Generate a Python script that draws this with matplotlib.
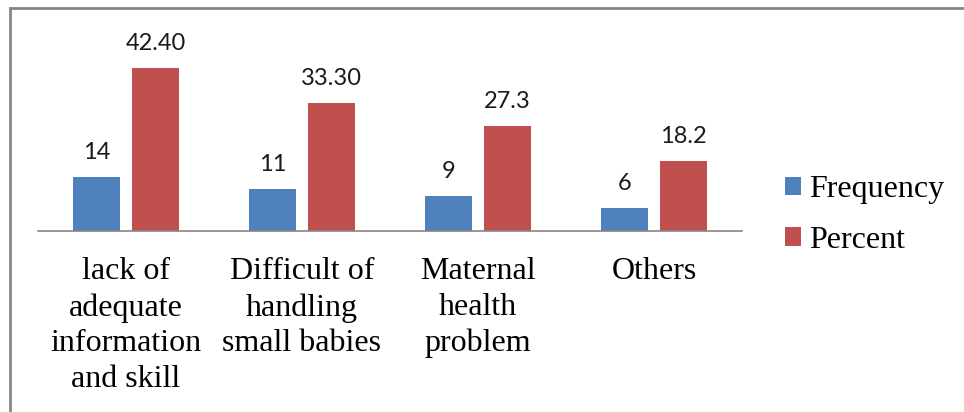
import matplotlib
matplotlib.use("Agg")
import matplotlib.pyplot as plt
from matplotlib.patches import Rectangle, Patch
import numpy as np

categories = ["lack of\nadequate\ninformation\nand skill",
              "Difficult of\nhandling\nsmall babies",
              "Maternal\nhealth\nproblem",
              "Others"]
frequency = [14, 11, 9, 6]
percent = [42.40, 33.30, 27.3, 18.2]
frequency_labels = ["14", "11", "9", "6"]
percent_labels = ["42.40", "33.30", "27.3", "18.2"]
series_names = ["Frequency", "Percent"]

BLUE = "#4F81BD"
RED = "#C0504D"
GRAY = "#868686"

W, H, DPI = 964, 412, 100
fig = plt.figure(figsize=(W / DPI, H / DPI), dpi=DPI)

# outer border (partially cropped at right/bottom)
fig.patches.append(Rectangle((10 / W, -0.1), 1.2, 1 - 8 / H + 0.1,
                             transform=fig.transFigure, fill=False,
                             edgecolor=GRAY, linewidth=2))

ax_left, ax_right = 38, 742
ax_base, ax_top = 231, 58
ax = fig.add_axes([ax_left / W, (H - ax_base) / H,
                   (ax_right - ax_left) / W, (ax_base - ax_top) / H])

x = np.arange(len(categories))
off, bw = 0.168, 0.267
b1 = ax.bar(x - off, frequency, bw, color=BLUE, label=series_names[0])
b2 = ax.bar(x + off, percent, bw, color=RED, label=series_names[1])

ax.set_xlim(-0.5, len(categories) - 0.5)
ax.set_ylim(0, 45)

for bars, labs in ((b1, frequency_labels), (b2, percent_labels)):
    for rect, lab in zip(bars, labs):
        ax.annotate(lab, (rect.get_x() + rect.get_width() / 2, rect.get_height()),
                    xytext=(0, 13), textcoords="offset points",
                    ha="center", va="baseline", fontsize=17,
                    family=["Lato", "DejaVu Sans"], color="#1a1a1a")

for s in ("top", "right", "left"):
    ax.spines[s].set_visible(False)
ax.spines["bottom"].set_color(GRAY)
ax.spines["bottom"].set_linewidth(1.2)
ax.set_yticks([])
ax.tick_params(axis="x", length=0, pad=19)
ax.set_xticks(x)
ax.set_xticklabels(categories)
for t in ax.get_xticklabels():
    t.set_fontfamily("Liberation Serif")
    t.set_fontsize(23)
    t.set_linespacing(1.3)
    t.set_verticalalignment("top")

leg = ax.legend(handles=[Patch(facecolor=BLUE), Patch(facecolor=RED)],
                labels=series_names, loc="center left",
                bbox_to_anchor=(785 / W, 1 - 215 / H),
                bbox_transform=fig.transFigure, frameon=False,
                prop={"family": "Liberation Serif", "size": 23},
                handlelength=0.5, handleheight=0.5, handletextpad=0.25,
                labelspacing=0.68, borderpad=0, borderaxespad=0)

fig.savefig("out.png", dpi=DPI)
